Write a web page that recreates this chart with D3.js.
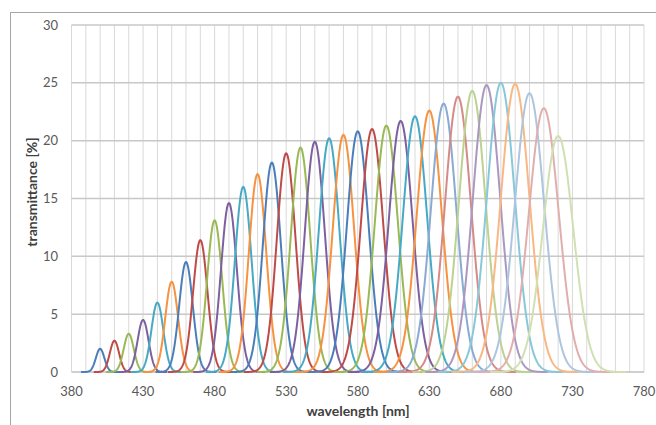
<!DOCTYPE html>
<html>
<head>
<meta charset="utf-8">
<script src="https://cdn.jsdelivr.net/npm/d3@7"></script>
<style>
  body { margin: 0; background: #fff; }
  svg { display: block; font-family: Lato, "Open Sans", sans-serif; }
</style>
</head>
<body>
<div id="chart"></div>
<script>
// filter bands: centre wavelength, peak transmittance, band width (FWHM, nm)
const centers = [400, 410, 420, 430, 440, 450, 460, 470, 480, 490, 500,
  510, 520, 530, 540, 550, 560, 570, 580, 590, 600, 610, 620, 630, 640,
  650, 660, 670, 680, 690, 700, 710, 720];
const peaks = [2.0, 2.7, 3.3, 4.5, 6.0, 7.8, 9.5, 11.4, 13.1, 14.6, 16.0,
  17.1, 18.1, 18.9, 19.4, 19.9, 20.2, 20.5, 20.8, 21.0, 21.3, 21.7, 22.1,
  22.6, 23.2, 23.8, 24.3, 24.8, 25.0, 24.9, 24.1, 22.8, 20.4];
const widths = [7, 7.6, 8.3, 9, 9.8, 10.5, 11.2, 11.9, 12.5, 13.1, 13.7,
  14.3, 14.9, 15.5, 16, 16.5, 17, 17.5, 18, 18.5, 19, 19.5, 20,
  20.5, 21, 21.5, 22, 22.5, 23, 23.5, 24, 24.5, 25];
const palette = ["#4a7ebb", "#be4b48", "#98b954", "#7d60a0", "#46aac5", "#f69240"];
const tints = [0, 0, 0, 0, 0.35, 0.55];   // lighter for later colour rounds
const xTicks = [380, 430, 480, 530, 580, 630, 680, 730, 780];
const yTicks = [0, 5, 10, 15, 20, 25, 30];

var width = 656, height = 425;
var margin = {left: 71.5, right: 12, top: 25, bottom: 53};

const x = d3.scaleLinear().domain([380, 780]).range([margin.left, width - margin.right]);
const y = d3.scaleLinear().domain([0, 30]).range([height - margin.bottom, margin.top]);

const svg = d3.select("#chart").append("svg")
  .attr("width", width).attr("height", height);

// outer chart border (runs off the right and bottom)
svg.append("rect")
  .attr("x", 10.5).attr("y", 12.5)
  .attr("width", 700).attr("height", 500)
  .attr("fill", "none").attr("stroke", "#a6a6a6");

// vertical grid, every 10 nm
svg.append("g")
  .selectAll("line")
  .data(d3.range(380, 781, 10))
  .join("line")
  .attr("x1", d => x(d)).attr("x2", d => x(d))
  .attr("y1", y(30)).attr("y2", y(0))
  .attr("stroke", "#d9d9d9").attr("stroke-width", 1);

// horizontal grid
svg.append("g")
  .selectAll("line")
  .data(yTicks)
  .join("line")
  .attr("x1", x(380)).attr("x2", x(780))
  .attr("y1", d => y(d)).attr("y2", d => y(d))
  .attr("stroke", d => d == 0 ? "#bfbfbf" : "#c8c8c8").attr("stroke-width", 1.5);

// tick labels
svg.append("g")
  .attr("font-size", 13).attr("fill", "#595959")
  .selectAll("text")
  .data(yTicks)
  .join("text")
  .attr("x", 58).attr("y", d => y(d) + 4.5)
  .attr("text-anchor", "end")
  .text(d => d);

svg.append("g")
  .attr("font-size", 13).attr("fill", "#595959")
  .selectAll("text")
  .data(xTicks)
  .join("text")
  .attr("x", d => x(d)).attr("y", 396)
  .attr("text-anchor", "middle")
  .text(d => d);

// axis titles
svg.append("text")
  .attr("x", 358).attr("y", 416)
  .attr("text-anchor", "middle")
  .attr("font-size", 14).attr("font-weight", "bold").attr("fill", "#404040")
  .text("wavelength [nm]");

svg.append("text")
  .attr("transform", "translate(37,192) rotate(-90)")
  .attr("text-anchor", "middle")
  .attr("font-size", 14).attr("font-weight", "bold").attr("fill", "#404040")
  .text("transmittance [%]");

// gaussian band shape
function band(c, p, w) {
  const s = w / 2.3548;
  return l => p * Math.exp(-(l - c) * (l - c) / (2 * s * s));
}

const bands = centers.map((c, i) => {
  const f = band(c, peaks[i], widths[i]);
  const lo = Math.max(380, c - 1.9 * widths[i]), hi = Math.min(780, c + 1.9 * widths[i]);
  const pts = d3.range(lo, hi + 0.01, 0.25).map(l => [l, f(l)]);
  const k = Math.floor(i / 6);
  const col = d3.interpolateRgb(palette[i % 6], "#ffffff")(tints[Math.min(k, 5)]);
  return {pts, col};
});

const line = d3.line().x(d => x(d[0])).y(d => y(d[1]));

svg.append("g")
  .attr("fill", "none")
  .attr("stroke-width", 2)
  .selectAll("path")
  .data(bands)
  .join("path")
  .attr("stroke", d => d.col)
  .attr("d", d => line(d.pts));
</script>
</body>
</html>
